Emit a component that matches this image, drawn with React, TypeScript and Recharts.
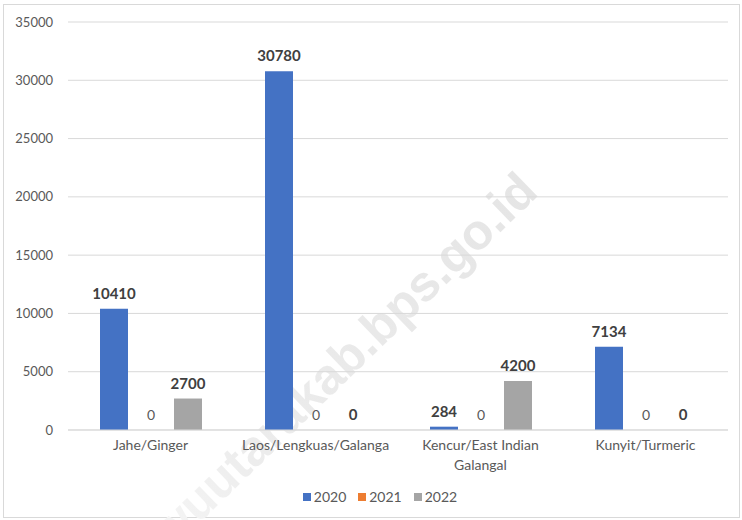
import React from 'react';
import { BarChart, Bar, XAxis, YAxis, CartesianGrid, Legend, LabelList, Text } from 'recharts';

const categories = ['Jahe/Ginger', 'Laos/Lengkuas/Galanga', 'Kencur/East Indian Galangal', 'Kunyit/Turmeric'];
const values2020 = [10410, 30780, 284, 7134];
const values2021 = [0, 0, 0, 0];
const values2022 = [2700, 0, 4200, 0];
const yTicks = [0, 5000, 10000, 15000, 20000, 25000, 30000, 35000];
const seriesNames = ['2020', '2021', '2022'];
const seriesColors = ['#4472C4', '#ED7D31', '#A5A5A5'];
const watermark = 'luwuutarakab.bps.go.id';

const data = categories.map((name, i) => ({
  name,
  v2020: values2020[i],
  v2021: values2021[i],
  v2022: values2022[i],
}));

const FONT = 'Lato, "Open Sans", sans-serif';

const CategoryTick = (props: any) => {
  const { x, y, payload } = props;
  return (
    <Text
      x={x}
      y={y + 2}
      width={150}
      textAnchor="middle"
      verticalAnchor="start"
      lineHeight="1.4em"
      fill="#595959"
      fontSize={14}
      fontFamily={FONT}
    >
      {payload.value}
    </Text>
  );
};

const LegendContent = () => (
  <div style={{ display: 'flex', justifyContent: 'center', fontFamily: FONT, fontSize: 14, color: '#595959' }}>
    {seriesNames.map((n, i) => (
      <div key={n} style={{ display: 'flex', alignItems: 'center', marginRight: i < 2 ? 12 : 0 }}>
        <span style={{ display: 'inline-block', width: 8, height: 8, background: seriesColors[i], marginRight: 3 }} />
        <span>{n}</span>
      </div>
    ))}
  </div>
);

export default function App() {
  return (
    <div style={{ position: 'absolute', left: 0, top: 0, width: 742, height: 520, background: '#fff', fontFamily: FONT, overflow: 'hidden' }}>
      <div style={{ position: 'absolute', left: 3, top: 4, width: 735, height: 512, border: '1px solid #d9d9d9' }} />
      <svg width={742} height={520} style={{ position: 'absolute', left: 0, top: 0 }}>
        <defs>
          <linearGradient id="wmfade" gradientUnits="userSpaceOnUse" x1={-580} y1={0} x2={0} y2={0}>
            <stop offset="0" stopColor="#fafafa" />
            <stop offset="0.35" stopColor="#ececec" />
            <stop offset="1" stopColor="#e5e5e5" />
          </linearGradient>
        </defs>
        <g transform="translate(540 194) rotate(-44)">
          <text
            x={0}
            y={0}
            textAnchor="end"
            fontFamily='"Liberation Sans", Arial, sans-serif'
            fontWeight="bold"
            fontSize={50}
            fill="url(#wmfade)"
          >
            {watermark}
          </text>
        </g>
      </svg>
      <div style={{ position: 'absolute', left: 0, top: 0 }}>
        <BarChart
          width={742}
          height={520}
          data={data}
          margin={{ top: 22, right: 14, left: 0, bottom: 40 }}
          barSize={28}
          barGap={9}
        >
          <CartesianGrid vertical={false} stroke="#d9d9d9" />
          <XAxis
            dataKey="name"
            height={50}
            tickLine={false}
            axisLine={{ stroke: '#d9d9d9' }}
            interval={0}
            tick={<CategoryTick />}
          />
          <YAxis
            width={68}
            domain={[0, 35000]}
            ticks={yTicks}
            tickLine={false}
            axisLine={false}
            tickSize={0}
            tickMargin={15}
            tick={{ fill: '#595959', fontSize: 13, fontFamily: FONT }}
          />
          <Legend
            layout="horizontal"
            verticalAlign="middle"
            align="center"
            wrapperStyle={{ top: 488, left: 9, width: 742 }}
            content={<LegendContent />}
          />
          <Bar dataKey="v2020" name="2020" fill={seriesColors[0]} minPointSize={0.001} isAnimationActive={false}>
            <LabelList dataKey="v2020" position="top" offset={10} fill="#404040" fontSize={15} fontWeight="bold" fontFamily={FONT} />
          </Bar>
          <Bar dataKey="v2021" name="2021" fill={seriesColors[1]} minPointSize={0.001} isAnimationActive={false}>
            <LabelList dataKey="v2021" position="top" offset={10} fill="#595959" fontSize={14} fontFamily={FONT} />
          </Bar>
          <Bar dataKey="v2022" name="2022" fill={seriesColors[2]} minPointSize={0.001} isAnimationActive={false}>
            <LabelList dataKey="v2022" position="top" offset={10} fill="#404040" fontSize={15} fontWeight="bold" fontFamily={FONT} />
          </Bar>
        </BarChart>
      </div>
    </div>
  );
}
